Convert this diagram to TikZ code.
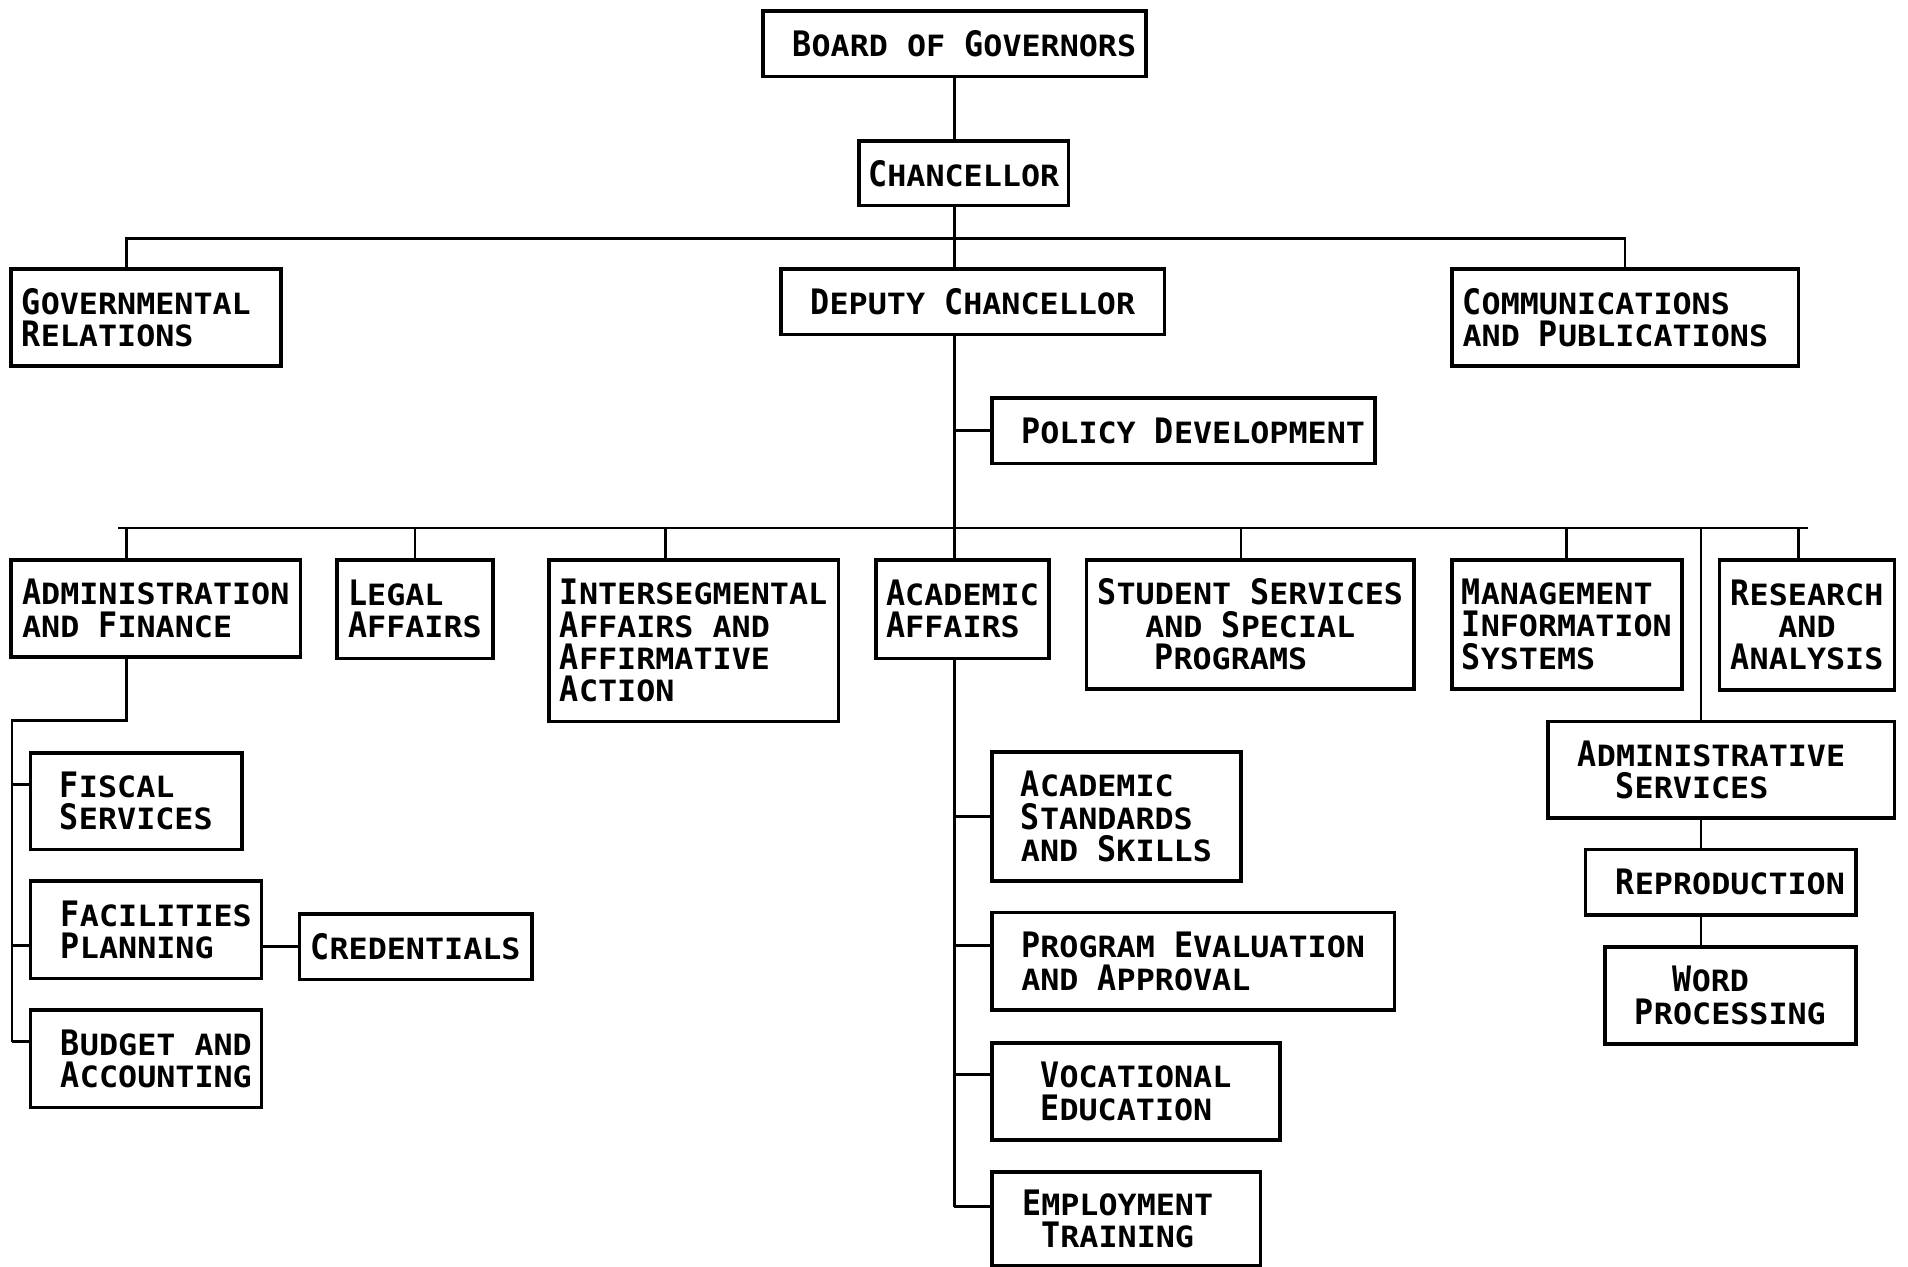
\documentclass[tikz,border=0pt]{standalone}
\usepackage{fontspec}
\usetikzlibrary{calc}
\newfontfamily\orgfont[FakeStretch=0.904,UprightFont={* Bold}]{DejaVu Sans Mono}
\newfontfamily\orgsmall[FakeStretch=1.083,UprightFont={* Bold}]{DejaVu Sans Mono}
\newcommand\sm[1]{{\orgsmall\fontsize{13.7}{15.1}\selectfont\uppercase{#1}}}
\newcommand\gap[1]{\hspace*{#1}}
\tikzset{
	unit/.style={draw, line width=1.7pt, inner sep=0pt, outer sep=0pt, anchor=north west,
		font=\orgfont\fontsize{16.4}{15.1}\selectfont},
	wh/.style 2 args={minimum width=#1*0.02cm, minimum height=#2*0.02cm},
	link/.style={line width=1.2pt}
}
\begin{document}
\begin{tikzpicture}[x=0.02cm,y=-0.02cm]
		\useasboundingbox (0,0) rectangle (1568,1041);
		%Leitung
		\node[unit, wh={315}{54}, align=center] (bog) at (627,9) {\gap{0.32cm}B\sm{oard} \sm{of} G\sm{overnors}};
		\node[unit, wh={172}{53}, align=center] (chan) at (706,116) {C\sm{hancellor}};
		\node[unit, wh={222}{80}, align=left] (gov) at (9,221) {G\sm{overnmental}\gap{0.32cm}\\R\sm{elations}};
		\node[unit, wh={315}{54}, align=center] (dep) at (642,221) {D\sm{eputy} C\sm{hancellor}};
		\node[unit, wh={285}{80}, align=left] (comm) at (1193,221) {C\sm{ommunications}\\\sm{and} P\sm{ublications}\gap{0.32cm}};
		\node[unit, wh={315}{54}, align=center] (pol) at (815,327) {\gap{0.32cm}P\sm{olicy} D\sm{evelopment}};
		%Abteilungen
		\node[unit, wh={238}{80}, align=left] (adm) at (9,460) {A\sm{dministration}\\\sm{and} F\sm{inance}};
		\node[unit, wh={128}{81}, align=left] (leg) at (277,460) {L\sm{egal}\\A\sm{ffairs}};
		\node[unit, wh={238}{133}, align=left] (inter) at (451,460) {I\sm{ntersegmental}\\A\sm{ffairs} \sm{and}\\A\sm{ffirmative}\\A\sm{ction}};
		\node[unit, wh={142}{81}, align=left] (aca) at (720,460) {A\sm{cademic}\\A\sm{ffairs}};
		\node[unit, wh={269}{106}, align=center] (stu) at (893,460) {S\sm{tudent} S\sm{ervices}\\\sm{and} S\sm{pecial}\gap{0.32cm}\\P\sm{rograms}\gap{0.64cm}};
		\node[unit, wh={189}{106}, align=left] (mis) at (1193,460) {M\sm{anagement}\\I\sm{nformation}\\S\sm{ystems}};
		\node[unit, wh={144}{107}, align=center] (res) at (1413,460) {R\sm{esearch}\\\sm{and}\\A\sm{nalysis}};
		%Unterabteilungen
		\node[unit, wh={285}{79}, align=center] (asv) at (1272,593) {A\sm{dministrative}\gap{0.32cm}\\S\sm{ervices}\gap{0.96cm}};
		\node[unit, wh={222}{54}, align=center] (rep) at (1303,698) {\gap{0.32cm}R\sm{eproduction}};
		\node[unit, wh={206}{80}, align=center] (word) at (1319,778) {W\sm{ord}\gap{0.64cm}\\P\sm{rocessing}};
		\node[unit, wh={174}{79}, align=left] (fis) at (25,619) {F\sm{iscal}\\S\sm{ervices}};
		\node[unit, wh={190}{80}, align=left] (fac) at (25,724) {\gap{0.34cm}F\sm{acilities}\\\gap{0.34cm}P\sm{lanning}};
		\node[unit, wh={191}{54}, align=center] (cred) at (246,751) {C\sm{redentials}};
		\node[unit, wh={190}{80}, align=left] (bud) at (25,830) {\gap{0.34cm}B\sm{udget} \sm{and}\\\gap{0.34cm}A\sm{ccounting}};
		\node[unit, wh={205}{106}, align=left] (std) at (815,618) {A\sm{cademic}\\S\sm{tandards}\\\sm{and} S\sm{kills}};
		\node[unit, wh={331}{80}, align=left] (prog) at (815,750) {P\sm{rogram} E\sm{valuation}\\\sm{and} A\sm{pproval}};
		\node[unit, wh={237}{80}, align=left] (voc) at (815,857) {V\sm{ocational}\\E\sm{ducation}};
		\node[unit, wh={221}{77}, align=center] (emp) at (815,963) {E\sm{mployment}\gap{0.28cm}\\T\sm{raining}\gap{0.28cm}};
		%Verbindungen
		\coordinate (spine) at (bog.south);
		\coordinate (bar1) at (784,196);
		\coordinate (bar2) at (784,434);
		\coordinate (bar2w) at (97,434);
		\coordinate (bar2e) at (1486,434);
		\coordinate (admturn) at (10,592);
		\coordinate (admbot) at ($(adm.south)+(-24,0)$);
		\coordinate (asvtop) at ($(asv.north)+(-16.5,0)$);
		\coordinate (empstub) at ($(emp.west)+(0,-10)$);
		\coordinate (budstub) at ($(bud.west)+(0,-14)$);
		\draw[link] (spine) -- (spine |- chan.north);
		\draw[link] (spine |- chan.south) -- (spine |- dep.north);
		\draw[link] ($(gov.north)+(-16,0)$) |- (bar1) -| (comm.north);
		\draw[link] (spine |- dep.south) -- (spine |- aca.north);
		\draw[link] (spine |- pol.west) -- (pol.west);
		\draw[link] (bar2w) -- (bar2e);
		\foreach \n/\dx in {adm/-24, leg/0, inter/-23, stu/-7.5, mis/0, res/-7}
			\draw[link] ($(\n.north)+(\dx,0)$) -- ($(\n.north)+(\dx,0)+(0,-26)$);
		\draw[link] (asvtop |- bar2) -- (asvtop);
		\draw[link] (asvtop |- asv.south) -- (asvtop |- rep.north);
		\draw[link] (asvtop |- rep.south) -- (asvtop |- word.north);
		%Verwaltung und Finanzen
		\draw[link] (admbot) |- (admturn) -- (admturn |- budstub);
		\foreach \n/\dy in {fis/-14, fac/13, bud/-14}
			\draw[link] ($(\n.west)+(0,\dy)$) -- ($(\n.west)+(0,\dy)+(-15,0)$);
		\draw[link] (fac.east |- cred.west) -- (cred.west);
		%Akademische Angelegenheiten
		\draw[link] (spine |- aca.south) -- (spine |- empstub);
		\foreach \n/\dy in {std/0, prog/-13, voc/-14, emp/-10}
			\draw[link] ($(\n.west)+(0,\dy)$) -- ($(\n.west)+(0,\dy)+(-31,0)$);
	\end{tikzpicture}
\end{document}
